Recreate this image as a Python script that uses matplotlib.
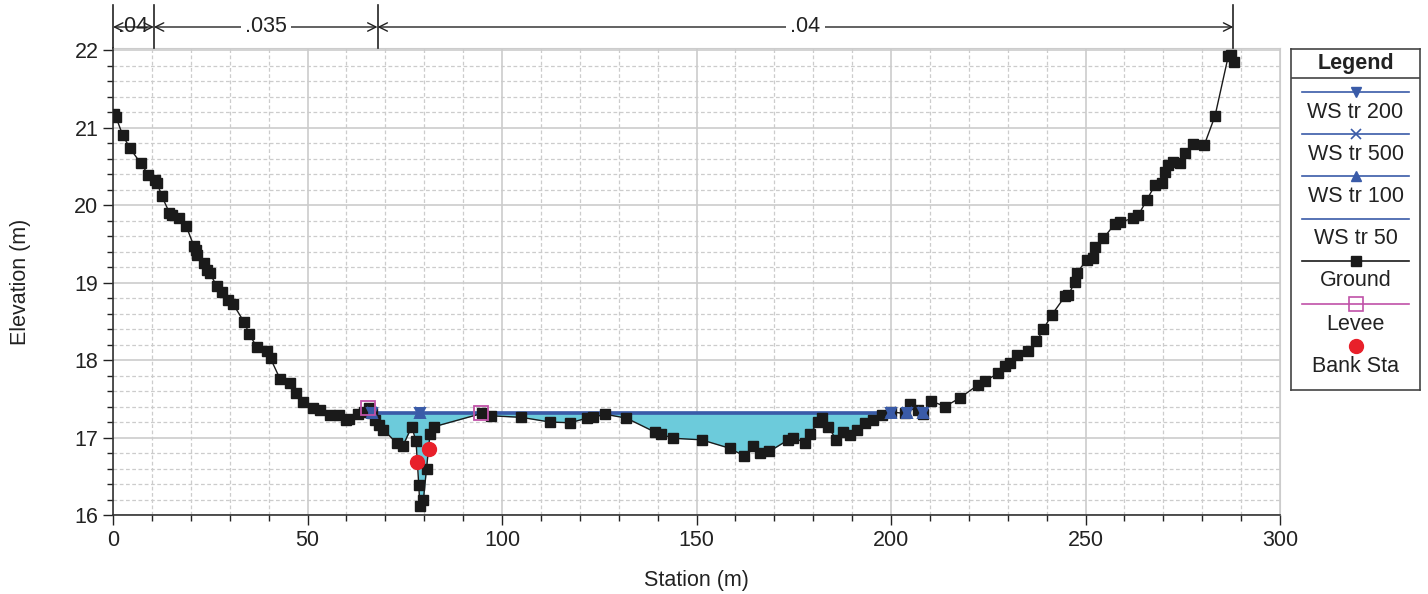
""" Cross section plot: ground, water surfaces, levees, bank stations """
import matplotlib
matplotlib.use("Agg")
import matplotlib.pyplot as plt
import matplotlib.transforms as mtransforms
from matplotlib.ticker import MultipleLocator
import numpy as np

plt.rcParams['font.family'] = ['Liberation Sans', 'DejaVu Sans']

""" Data """
ground_sta = [0.3, 0.8, 2.5, 4.4, 7.1, 9.1, 10.8, 11.4, 12.5, 14.5, 15.1, 17.0, 18.8,
              20.8, 21.3, 21.7, 23.4, 24.1, 24.9, 26.7, 27.9, 29.6, 30.9, 33.7, 35.0,
              36.9, 39.5, 40.5, 42.9, 45.5, 47.0, 48.8, 51.5, 53.2, 55.8, 58.2, 59.9,
              60.6, 63.0, 64.5, 65.7, 66.6, 67.4, 68.5, 69.5, 72.9, 74.5, 76.8, 77.9,
              78.6, 78.9, 79.8, 80.6, 81.5, 82.6, 94.8, 97.3, 105.0, 112.3, 117.5,
              121.8, 123.4, 126.5, 132.0, 139.3, 141.0, 144.0, 151.3, 158.6, 162.3,
              164.6, 166.3, 168.7, 173.6, 174.9, 177.9, 179.2, 181.3, 182.2, 183.9,
              185.9, 187.7, 189.5, 191.2, 193.3, 195.3, 197.6, 200.1, 203.5, 204.9,
              207.0, 208.3, 210.4, 213.9, 217.7, 222.4, 224.2, 227.6, 229.3, 230.6,
              232.3, 235.3, 237.4, 239.2, 241.3, 244.7, 245.6, 247.3, 247.7, 250.3,
              252.0, 252.4, 254.6, 257.6, 258.9, 262.3, 263.6, 265.7, 267.9, 269.6,
              270.5, 271.3, 272.6, 274.3, 275.6, 277.7, 280.5, 283.3, 286.7, 287.3, 288.3]
ground_elev = [21.17, 21.13, 20.90, 20.73, 20.54, 20.39, 20.32, 20.28, 20.12, 19.90, 19.87, 19.83, 19.73,
               19.47, 19.42, 19.35, 19.25, 19.16, 19.12, 18.95, 18.88, 18.77, 18.72, 18.49, 18.34,
               18.17, 18.12, 18.02, 17.76, 17.70, 17.57, 17.46, 17.38, 17.36, 17.29, 17.29, 17.23,
               17.24, 17.30, 17.33, 17.38, 17.32, 17.23, 17.16, 17.10, 16.93, 16.89, 17.14, 16.95,
               16.39, 16.11, 16.20, 16.60, 17.05, 17.14, 17.31, 17.28, 17.26, 17.20, 17.19,
               17.25, 17.26, 17.30, 17.25, 17.07, 17.04, 16.99, 16.97, 16.86, 16.76,
               16.89, 16.80, 16.82, 16.97, 17.00, 16.93, 17.05, 17.20, 17.25, 17.14,
               16.97, 17.07, 17.03, 17.10, 17.19, 17.23, 17.29, 17.33, 17.31, 17.43,
               17.36, 17.30, 17.47, 17.40, 17.51, 17.68, 17.73, 17.83, 17.92, 17.96,
               18.07, 18.12, 18.24, 18.40, 18.58, 18.82, 18.84, 19.01, 19.12, 19.29,
               19.31, 19.46, 19.57, 19.76, 19.78, 19.83, 19.87, 20.06, 20.26, 20.29,
               20.43, 20.52, 20.56, 20.54, 20.67, 20.79, 20.77, 21.15, 21.92, 21.93, 21.84]

ws_names = ["WS tr 200", "WS tr 500", "WS tr 100", "WS tr 50"]
ws_elev = [17.32, 17.335, 17.31, 17.30]
ws_start, ws_end = 66.3, 200.3
ws_marker_sta = [66.5, 78.9, 200.1, 204.0, 208.3]

levee_sta = [65.6, 94.7]
levee_elev = [17.38, 17.31]
bank_sta = [78.2, 81.2]
bank_elev = [16.69, 16.85]

n_breaks = [0, 10.5, 68, 288]
n_values = [".04", ".035", ".04"]

""" Style """
ws_color = "#3a5ba8"
ws_markers = ["v", "x", "^", None]
water_color = "#6ccbdb"
levee_color = "#c052a8"
bank_color = "#e8202a"
grid_color = "#cccccc"

figure = plt.figure(figsize=(14.28, 5.94), dpi=100)
ax = figure.add_axes([113 / 1428, 1 - 515 / 594, 1167 / 1428, 467 / 594])

gx = np.array(ground_sta)
gy = np.array(ground_elev)

# water fill between ground and highest WS inside the channel
mask = (gx >= ws_start - 1) & (gx <= ws_end + 0.2)
wtop = max(ws_elev)
ax.fill_between(gx[mask], gy[mask], wtop, where=gy[mask] < wtop, interpolate=True,
                color=water_color, lw=0, zorder=2)

for name, el, mk in zip(ws_names, ws_elev, ws_markers):
    ax.plot([ws_start, ws_end], [el, el], color=ws_color, lw=1.2, zorder=3)
    if mk:
        ax.plot(ws_marker_sta, [el] * len(ws_marker_sta), ls="none", marker=mk,
                color=ws_color, ms=6.5, mew=1.4, zorder=5)

ax.plot(gx, gy, color="#1a1a1a", lw=1, marker="s", ms=6.8, zorder=4)
ax.plot(levee_sta, levee_elev, ls="none", marker="s", ms=10, mfc="none",
        mec=levee_color, mew=1.3, zorder=5)
ax.plot(bank_sta, bank_elev, ls="none", marker="o", ms=10, color=bank_color, zorder=6)

ax.set_xlim(0, 300)
ax.set_ylim(16, 22.026)
ax.xaxis.set_major_locator(MultipleLocator(50))
ax.xaxis.set_minor_locator(MultipleLocator(10))
ax.yaxis.set_major_locator(MultipleLocator(1))
ax.yaxis.set_minor_locator(MultipleLocator(0.2))
ax.grid(which="major", color=grid_color, lw=1.2, zorder=0)
ax.grid(which="minor", color=grid_color, lw=0.9, ls=(0, (3, 2)), zorder=0)
ax.set_axisbelow(True)
ax.tick_params(which="major", direction="out", length=7, width=1, labelsize=15.5, colors="#222222")
ax.tick_params(which="minor", direction="out", length=4, width=1, colors="#222222")
for side in ["top", "right"]:
    ax.spines[side].set_color(grid_color)
for side in ["left", "bottom"]:
    ax.spines[side].set_color("#333333")
    ax.spines[side].set_linewidth(1.2)

ax.set_xlabel("Station (m)", fontsize=15.5, color="#222222")
ax.set_ylabel("Elevation (m)", fontsize=15.5, color="#222222")
ax.xaxis.set_label_coords(0.5, -0.118)
ax.yaxis.set_label_coords(-0.07, 0.5)

# n values above the plot
trans = mtransforms.blended_transform_factory(ax.transData, ax.transAxes)
y_arrow = (515 - 27) / 467
for xb in n_breaks:
    ax.plot([xb, xb], [1.0, (515 - 5) / 467], transform=trans, color="#222222",
            lw=1.2, clip_on=False, zorder=7)
for i, label in enumerate(n_values):
    x0, x1 = n_breaks[i], n_breaks[i + 1]
    xm = (x0 + x1) / 2
    for xe in (x0, x1):
        ax.annotate("", xy=(xe, y_arrow), xytext=(xm, y_arrow), xycoords=trans,
                    textcoords=trans, annotation_clip=False,
                    arrowprops=dict(arrowstyle="->,head_length=0.6,head_width=0.3",
                                    color="#222222", lw=1, shrinkA=0, shrinkB=0))
    if x1 - x0 > 20:
        ax.text(xm, y_arrow, label, transform=trans, ha="center", va="center",
                fontsize=15.5, color="#222222", zorder=8,
                bbox=dict(facecolor="white", edgecolor="none", pad=3))
    else:
        ax.text(xm, y_arrow, label, transform=trans, ha="center", va="center",
                fontsize=15.5, color="#222222", zorder=8)

# legend box
lx0, lx1, ly0, ly1 = 1291, 1420, 49, 390
lax = figure.add_axes([lx0 / 1428, 1 - ly1 / 594, (lx1 - lx0) / 1428, (ly1 - ly0) / 594])
lax.set_xlim(lx0, lx1)
lax.set_ylim(ly1, ly0)
lax.set_xticks([])
lax.set_yticks([])
for s in lax.spines.values():
    s.set_color("#444444")
    s.set_linewidth(1.2)
lax.text((lx0 + lx1) / 2, 63, "Legend", ha="center", va="center", fontsize=15.5,
         fontweight="bold", color="#222222")
lax.plot([lx0, lx1], [78, 78], color="#444444", lw=1.2)

entries = [
    ("WS tr 200", ws_color, "v", dict(ms=7)),
    ("WS tr 500", ws_color, "x", dict(ms=7, mew=1.2)),
    ("WS tr 100", ws_color, "^", dict(ms=7)),
    ("WS tr 50", ws_color, None, {}),
    ("Ground", "#1a1a1a", "s", dict(ms=7)),
    ("Levee", levee_color, "s", dict(ms=10, mfc="none", mew=1.2)),
    ("Bank Sta", bank_color, "o", dict(ms=10)),
]
line_y = [92, 134, 176, 219, 261, 304, 346]
for (label, col, mk, kw), yy in zip(entries, line_y):
    if label != "Bank Sta":
        lax.plot([1302, 1409], [yy, yy], color=col, lw=1.2)
    if mk:
        lax.plot([1355.5], [yy], color=col, marker=mk, ls="none", **kw)
    lax.text(1355.5, yy + 20, label, ha="center", va="center", fontsize=15.5, color="#222222")

figure.savefig("out.png", dpi=100)
